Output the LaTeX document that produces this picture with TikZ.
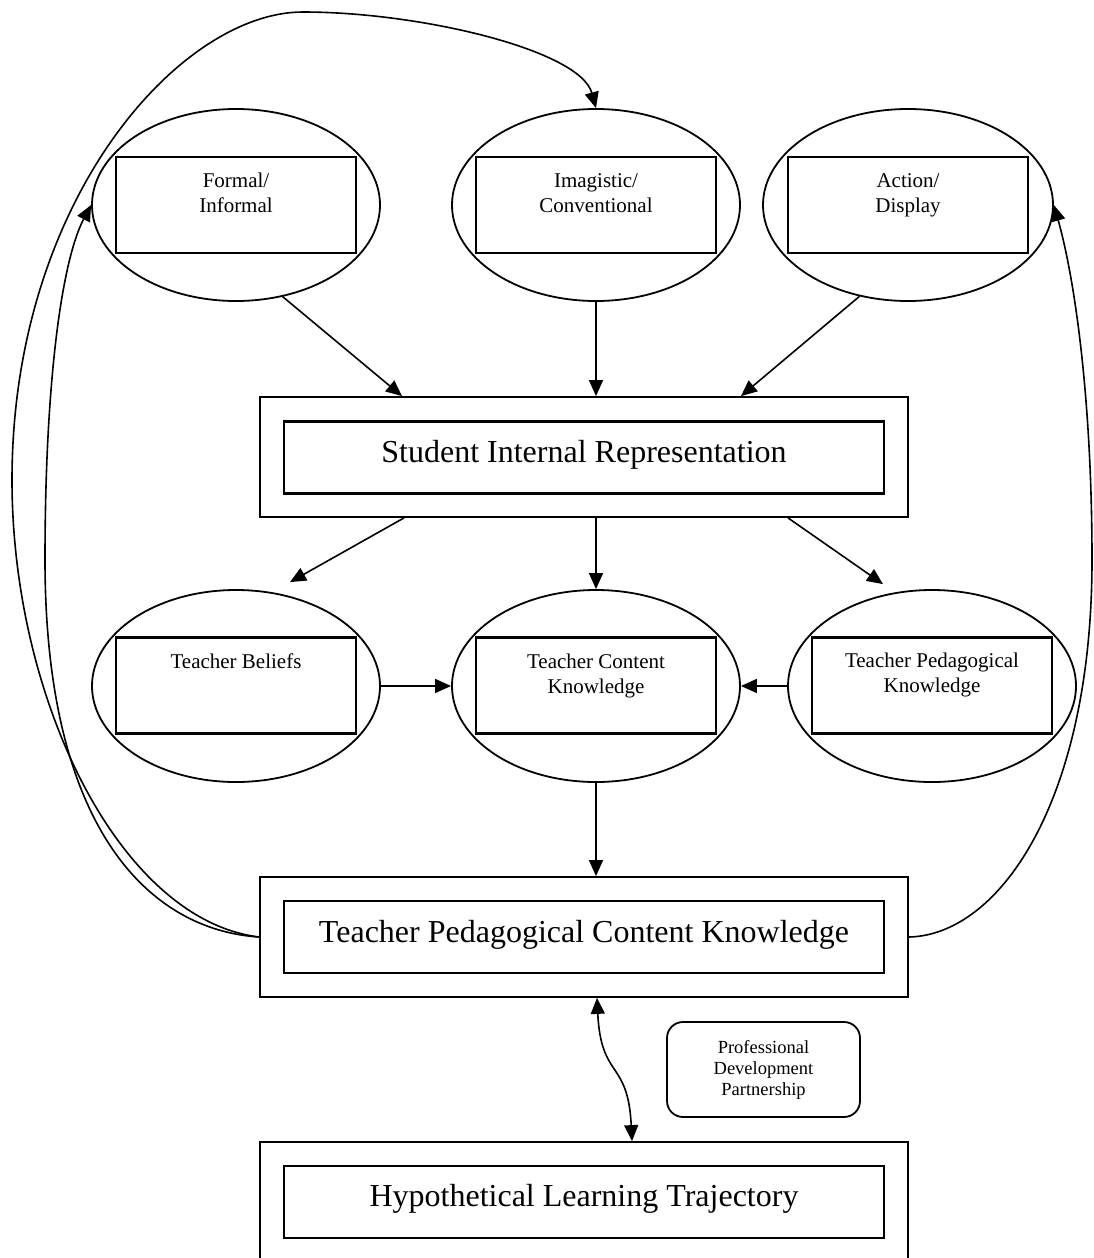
\documentclass[tikz,border=0pt]{standalone}
\usepackage{fontspec}
\setmainfont{Liberation Serif}
\usetikzlibrary{shapes.geometric,arrows.meta,calc}
\begin{document}
\begin{tikzpicture}[x=1pt,y=-1pt,
  ell/.style={draw,ellipse,line width=1.8pt,inner sep=0pt,minimum width=288pt,minimum height=192pt},
  irect/.style={draw,rectangle,line width=2.2pt,inner sep=0pt,minimum width=240pt,minimum height=96pt},
  obox/.style={draw,rectangle,line width=1.8pt,inner sep=0pt,minimum width=648pt,minimum height=120pt},
  ibox/.style={draw,rectangle,line width=2.2pt,inner sep=0pt,minimum width=600pt,minimum height=72pt},
  smalltxt/.style={inner sep=0pt,anchor=base,font=\fontsize{21}{25}\selectfont},
  bigtxt/.style={inner sep=0pt,anchor=base,font=\fontsize{32}{38}\selectfont},
  tinytxt/.style={inner sep=0pt,anchor=base,font=\fontsize{18.5}{21}\selectfont},
  arr/.style={line width=1.6pt,-{Triangle[length=16pt,width=14pt]}},
  darr/.style={line width=1.6pt,{Triangle[length=16pt,width=14pt]}-{Triangle[length=16pt,width=14pt]}},
]
\clip (0,0) rectangle (1094,1258);

% top row
\node[ell] (fi) at (236,205) {};
\node[irect] (fiR) at (236,205) {};
\node[smalltxt] (fiA) at (236,187) {Formal/};
\node[smalltxt] (fiB) at (236,212) {Informal};

\node[ell] (ic) at (596,205) {};
\node[irect] (icR) at (596,205) {};
\node[smalltxt] (icA) at (596,187) {Imagistic/};
\node[smalltxt] (icB) at (596,212) {Conventional};

\node[ell,minimum width=290pt] (ad) at (908,205) {};
\node[irect] (adR) at (908,205) {};
\node[smalltxt] (adA) at (908,187) {Action/};
\node[smalltxt] (adB) at (908,212) {Display};

% student box
\node[obox] (sir) at (584,457) {};
\node[ibox] (sirI) at (584,457.5) {};
\node[bigtxt] (sirT) at (584,462) {Student Internal Representation};

% middle row
\node[ell] (tb) at (236,686) {};
\node[irect] (tbR) at (236,685.5) {};
\node[smalltxt] (tbA) at (236,668) {Teacher Beliefs};

\node[ell] (tck) at (596,686) {};
\node[irect] (tckR) at (596,685.5) {};
\node[smalltxt] (tckA) at (596,668) {Teacher Content};
\node[smalltxt] (tckB) at (596,693) {Knowledge};

\node[ell] (tpk) at (932,686) {};
\node[irect] (tpkR) at (932,685.5) {};
\node[smalltxt] (tpkA) at (932,667) {Teacher Pedagogical};
\node[smalltxt] (tpkB) at (932,692) {Knowledge};

% TPCK box
\node[obox] (tpck) at (584,937) {};
\node[ibox] (tpckI) at (584,937) {};
\node[bigtxt] (tpckT) at (584,942) {Teacher Pedagogical Content Knowledge};

% professional development
\node[draw,rectangle,rounded corners=16pt,line width=1.8pt,inner sep=0pt,minimum width=193pt,minimum height=95pt] (pdp) at (763.5,1069.5) {};
\node[tinytxt] (pdpA) at (763.5,1053) {Professional};
\node[tinytxt] (pdpB) at (763.5,1074) {Development};
\node[tinytxt] (pdpC) at (763.5,1095) {Partnership};

% HLT box
\node[obox] (hlt) at (584,1202) {};
\node[ibox] (hltI) at (584,1202) {};
\node[bigtxt] (hltT) at (584,1206.5) {Hypothetical Learning Trajectory};

% straight arrows
\draw[arr] (fi.-63) -- ($(sir.north)+(-182,0)$);
\draw[arr] (ic.south) -- (ic.south |- sir.north);
\draw[arr] (ad.-118) -- ($(sir.north)+(157,0)$);
\draw[arr] ($(sir.south)+(-180,0)$) -- ($(tb.north)+(54,-7)$);
\draw[arr] (sir.south -| tck.north) -- (tck.north);
\draw[arr] ($(sir.south)+(204,0)$) -- ($(tpk.north)+(-49,-5)$);
\draw[arr] (tb.east) -- (tck.west);
\draw[arr] (tpk.west) -- (tck.east);
\draw[arr] (tck.south) -- (tck.south |- tpck.north);

% double wavy arrow
\draw[darr] ($(tpck.south)+(13,0)$) .. controls ($(tpck.south)+(17,82)$) and ($(hlt.north)+(44,-82)$) .. ($(hlt.north)+(48,0)$);

% feedback curves
\draw[arr] (tpck.west) .. controls (150,930) and (45,830) .. (45,560) .. controls (45,380) and (62,260) .. (fi.west);
\draw[arr] (tpck.west) .. controls (120,920) and (12,700) .. (12,480) .. controls (12,200) and (180,12) .. (303,12) .. controls (420,12) and (580,50) .. (ic.north);
\draw[arr] (tpck.east) .. controls (1000,935) and (1092,800) .. (1092,560) .. controls (1092,400) and (1075,280) .. (ad.east);
\end{tikzpicture}
\end{document}
